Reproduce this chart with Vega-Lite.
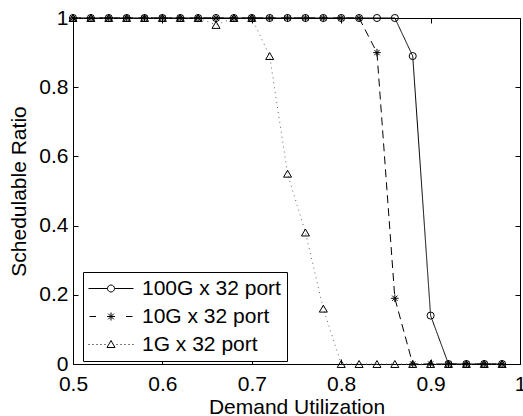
{
  "$schema": "https://vega.github.io/schema/vega-lite/v6.json",
  "width": 447,
  "height": 346,
  "autosize": {"type": "none"},
  "padding": {"left": 73, "top": 18, "right": 3, "bottom": 52},
  "background": "white",
  "config": {
    "view": {"stroke": "black", "strokeWidth": 1},
    "axis": {
      "domain": false,
      "grid": false,
      "tickColor": "black",
      "tickSize": -5,
      "labelFont": "Liberation Sans",
      "labelFontSize": 21,
      "labelColor": "black",
      "titleFont": "Liberation Sans",
      "titleFontSize": 21,
      "titleFontWeight": "normal",
      "titleColor": "black",
      "labelOverlap": false,
      "labelBound": false,
      "labelFlush": false
    }
  },
  "data": {
    "values": [
      {"x": 0.50, "y": 1, "s": "100G x 32 port"},
      {"x": 0.52, "y": 1, "s": "100G x 32 port"},
      {"x": 0.54, "y": 1, "s": "100G x 32 port"},
      {"x": 0.56, "y": 1, "s": "100G x 32 port"},
      {"x": 0.58, "y": 1, "s": "100G x 32 port"},
      {"x": 0.60, "y": 1, "s": "100G x 32 port"},
      {"x": 0.62, "y": 1, "s": "100G x 32 port"},
      {"x": 0.64, "y": 1, "s": "100G x 32 port"},
      {"x": 0.66, "y": 1, "s": "100G x 32 port"},
      {"x": 0.68, "y": 1, "s": "100G x 32 port"},
      {"x": 0.70, "y": 1, "s": "100G x 32 port"},
      {"x": 0.72, "y": 1, "s": "100G x 32 port"},
      {"x": 0.74, "y": 1, "s": "100G x 32 port"},
      {"x": 0.76, "y": 1, "s": "100G x 32 port"},
      {"x": 0.78, "y": 1, "s": "100G x 32 port"},
      {"x": 0.80, "y": 1, "s": "100G x 32 port"},
      {"x": 0.82, "y": 1, "s": "100G x 32 port"},
      {"x": 0.84, "y": 1, "s": "100G x 32 port"},
      {"x": 0.86, "y": 1, "s": "100G x 32 port"},
      {"x": 0.88, "y": 0.89, "s": "100G x 32 port"},
      {"x": 0.90, "y": 0.14, "s": "100G x 32 port"},
      {"x": 0.92, "y": 0, "s": "100G x 32 port"},
      {"x": 0.94, "y": 0, "s": "100G x 32 port"},
      {"x": 0.96, "y": 0, "s": "100G x 32 port"},
      {"x": 0.98, "y": 0, "s": "100G x 32 port"},
      {"x": 0.50, "y": 1, "s": "10G x 32 port"},
      {"x": 0.52, "y": 1, "s": "10G x 32 port"},
      {"x": 0.54, "y": 1, "s": "10G x 32 port"},
      {"x": 0.56, "y": 1, "s": "10G x 32 port"},
      {"x": 0.58, "y": 1, "s": "10G x 32 port"},
      {"x": 0.60, "y": 1, "s": "10G x 32 port"},
      {"x": 0.62, "y": 1, "s": "10G x 32 port"},
      {"x": 0.64, "y": 1, "s": "10G x 32 port"},
      {"x": 0.66, "y": 1, "s": "10G x 32 port"},
      {"x": 0.68, "y": 1, "s": "10G x 32 port"},
      {"x": 0.70, "y": 1, "s": "10G x 32 port"},
      {"x": 0.72, "y": 1, "s": "10G x 32 port"},
      {"x": 0.74, "y": 1, "s": "10G x 32 port"},
      {"x": 0.76, "y": 1, "s": "10G x 32 port"},
      {"x": 0.78, "y": 1, "s": "10G x 32 port"},
      {"x": 0.80, "y": 1, "s": "10G x 32 port"},
      {"x": 0.82, "y": 1, "s": "10G x 32 port"},
      {"x": 0.84, "y": 0.9, "s": "10G x 32 port"},
      {"x": 0.86, "y": 0.19, "s": "10G x 32 port"},
      {"x": 0.88, "y": 0, "s": "10G x 32 port"},
      {"x": 0.90, "y": 0, "s": "10G x 32 port"},
      {"x": 0.92, "y": 0, "s": "10G x 32 port"},
      {"x": 0.94, "y": 0, "s": "10G x 32 port"},
      {"x": 0.96, "y": 0, "s": "10G x 32 port"},
      {"x": 0.98, "y": 0, "s": "10G x 32 port"},
      {"x": 0.50, "y": 1, "s": "1G x 32 port"},
      {"x": 0.52, "y": 1, "s": "1G x 32 port"},
      {"x": 0.54, "y": 1, "s": "1G x 32 port"},
      {"x": 0.56, "y": 1, "s": "1G x 32 port"},
      {"x": 0.58, "y": 1, "s": "1G x 32 port"},
      {"x": 0.60, "y": 1, "s": "1G x 32 port"},
      {"x": 0.62, "y": 1, "s": "1G x 32 port"},
      {"x": 0.64, "y": 1, "s": "1G x 32 port"},
      {"x": 0.66, "y": 0.98, "s": "1G x 32 port"},
      {"x": 0.68, "y": 1, "s": "1G x 32 port"},
      {"x": 0.70, "y": 1, "s": "1G x 32 port"},
      {"x": 0.72, "y": 0.89, "s": "1G x 32 port"},
      {"x": 0.74, "y": 0.55, "s": "1G x 32 port"},
      {"x": 0.76, "y": 0.38, "s": "1G x 32 port"},
      {"x": 0.78, "y": 0.16, "s": "1G x 32 port"},
      {"x": 0.80, "y": 0, "s": "1G x 32 port"},
      {"x": 0.82, "y": 0, "s": "1G x 32 port"},
      {"x": 0.84, "y": 0, "s": "1G x 32 port"},
      {"x": 0.86, "y": 0, "s": "1G x 32 port"},
      {"x": 0.88, "y": 0, "s": "1G x 32 port"},
      {"x": 0.90, "y": 0, "s": "1G x 32 port"},
      {"x": 0.92, "y": 0, "s": "1G x 32 port"},
      {"x": 0.94, "y": 0, "s": "1G x 32 port"},
      {"x": 0.96, "y": 0, "s": "1G x 32 port"},
      {"x": 0.98, "y": 0, "s": "1G x 32 port"}
    ]
  },
  "layer": [
    {
      "mark": {"type": "line", "strokeWidth": 1, "clip": false},
      "encoding": {
        "x": {"field": "x", "type": "quantitative", "scale": {"domain": [0.5, 1], "nice": false, "zero": false},
              "axis": {"orient": "bottom", "values": [0.5, 0.6, 0.7, 0.8, 0.9, 1], "format": "~g", "labelPadding": 14, "title": "Demand Utilization", "titlePadding": 2}},
        "y": {"field": "y", "type": "quantitative", "scale": {"domain": [0, 1], "nice": false, "zero": false},
              "axis": {"orient": "left", "values": [0, 0.2, 0.4, 0.6, 0.8, 1], "format": "~g", "labelPadding": 10, "title": "Schedulable Ratio", "titlePadding": 9}},
        "strokeDash": {"field": "s", "type": "nominal",
                       "scale": {"domain": ["100G x 32 port", "10G x 32 port", "1G x 32 port"], "range": [[1, 0], [8, 5], [1, 4]]},
                       "legend": null},
        "color": {"field": "s", "type": "nominal",
                  "scale": {"domain": ["100G x 32 port", "10G x 32 port", "1G x 32 port"], "range": ["black", "black", "#666666"]},
                  "legend": null}
      }
    },
    {
      "mark": {"type": "point", "filled": false, "color": "black", "strokeWidth": 1, "opacity": 1, "clip": false},
      "encoding": {
        "x": {"field": "x", "type": "quantitative", "scale": {"domain": [0.5, 1], "nice": false, "zero": false},
              "axis": {"orient": "top", "values": [0.5, 0.6, 0.7, 0.8, 0.9, 1], "labels": false, "title": null}},
        "y": {"field": "y", "type": "quantitative", "scale": {"domain": [0, 1], "nice": false, "zero": false},
              "axis": {"orient": "right", "values": [0, 0.2, 0.4, 0.6, 0.8, 1], "labels": false, "title": null}},
        "shape": {"field": "s", "type": "nominal",
                  "scale": {"domain": ["100G x 32 port", "10G x 32 port", "1G x 32 port"],
                            "range": ["circle", "M0,-1V1M-1,0H1M-0.7,-0.7L0.7,0.7M-0.7,0.7L0.7,-0.7", "triangle-up"]},
                  "legend": null},
        "size": {"field": "s", "type": "nominal",
                 "scale": {"domain": ["100G x 32 port", "10G x 32 port", "1G x 32 port"], "range": [50, 64, 64]},
                 "legend": null}
      }
    },
    {
      "transform": [{"filter": "datum.x > 5"}],
      "mark": {"type": "point", "filled": false, "color": "black", "strokeWidth": 1, "size": 100, "opacity": 1},
      "encoding": {
        "x": {"field": "x", "type": "quantitative", "scale": {"domain": [0.5, 1], "nice": false, "zero": false}, "axis": null},
        "y": {"field": "y", "type": "quantitative", "scale": {"domain": [0, 1], "nice": false, "zero": false}, "axis": null},
        "shape": {"field": "s", "type": "nominal",
                  "scale": {"domain": ["100G x 32 port", "10G x 32 port", "1G x 32 port"],
                            "range": [
                              "M-4.5,0H-0.7M0.7,0H4.5M0.7,0A0.7,0.7 0 1,1 -0.7,0A0.7,0.7 0 1,1 0.7,0",
                              "M-4.3,0H-3.0M3.0,0H4.3M0,-0.8V0.8M-0.8,0H0.8M-0.57,-0.57L0.57,0.57M-0.57,0.57L0.57,-0.57",
                              "M-4.5,0h0.2M-3.7,0h0.2M-2.9,0h0.2M-2.1,0h0.2M-1.3,0h0.2M1.1,0h0.2M1.9,0h0.2M2.7,0h0.2M3.5,0h0.2M4.3,0h0.2M0,-0.8L0.8,0.6L-0.8,0.6Z"
                            ]},
                  "legend": {
                    "orient": "none", "legendX": 10, "legendY": 254, "title": null,
                    "strokeColor": "black", "fillColor": "white", "padding": 6,
                    "symbolOffset": 11.5, "labelOffset": 20.5, "labelFont": "Liberation Sans",
                    "labelFontSize": 21, "labelColor": "black", "rowPadding": 6, "symbolSize": 100,
                    "symbolStrokeWidth": 1, "symbolStrokeColor": "black", "symbolFillColor": "transparent",
                    "symbolOpacity": 1, "labelLimit": 0
                  }}
      }
    }
  ],
  "resolve": {"axis": {"x": "independent", "y": "independent"}, "scale": {"shape": "independent", "size": "independent", "color": "independent", "strokeDash": "independent"}}
}
